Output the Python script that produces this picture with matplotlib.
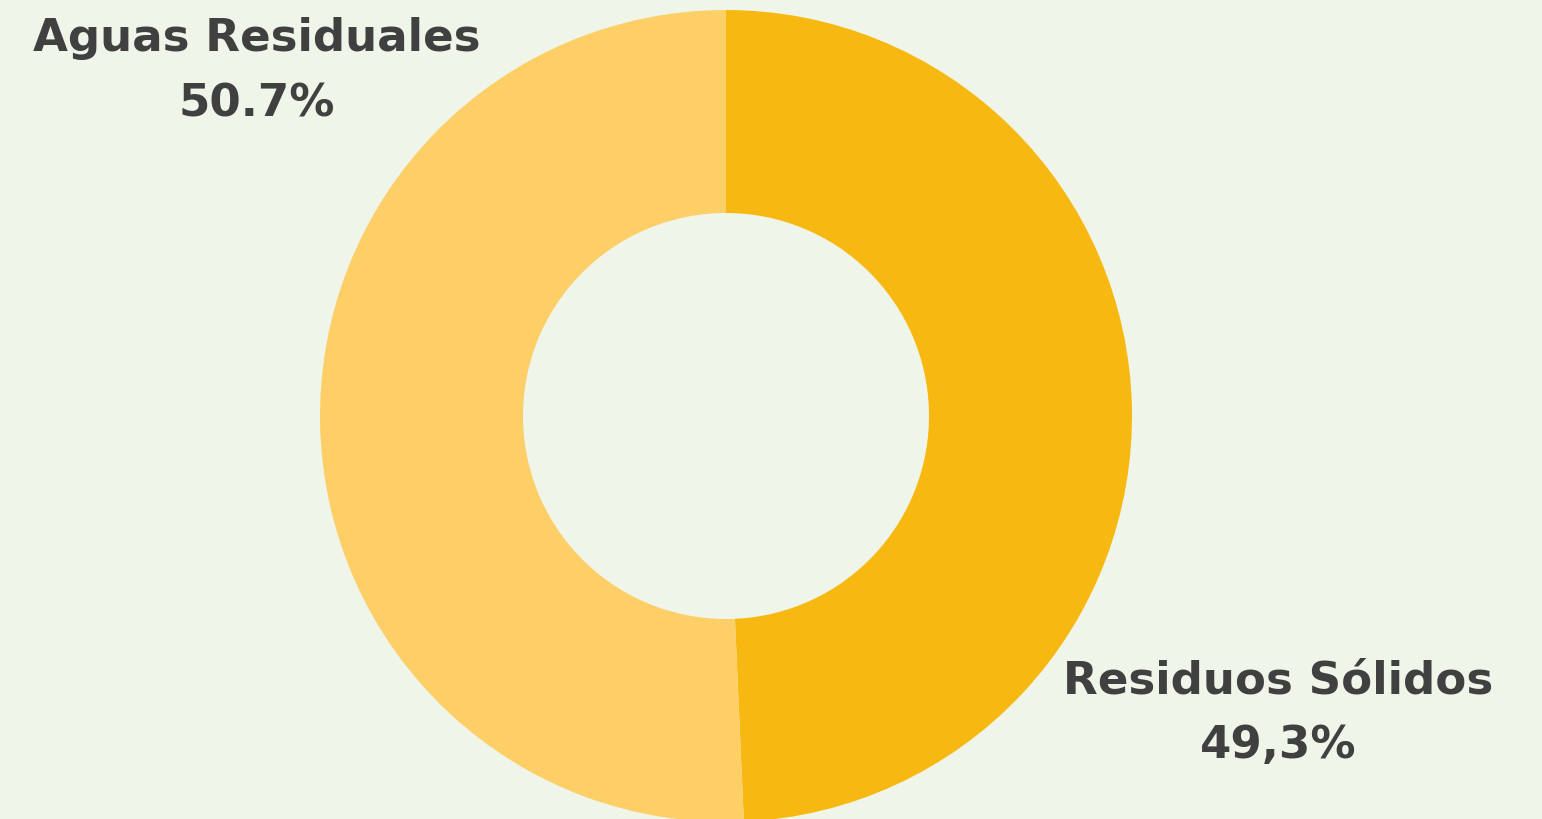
import matplotlib.pyplot as plt

# data
categories = ['Residuos Sólidos', 'Aguas Residuales']
values = [49.3, 50.7]
value_labels = ['49,3%', '50.7%']
colors = ['#F7B911', '#FDCF66']
bg = '#F0F5EA'
text_color = '#404040'

fig = plt.figure(figsize=(15.42, 8.2), dpi=100)
fig.patch.set_facecolor(bg)
ax = fig.add_axes([0, 0, 1, 1])
ax.set_facecolor(bg)

ax.pie(values, colors=colors, startangle=90, counterclock=False,
       center=(726, 403), radius=406, frame=True,
       wedgeprops=dict(width=203, linewidth=0))
ax.set_xlim(0, 1542)
ax.set_ylim(0, 820)
ax.axis('off')

# label positions (pixels, y from bottom)
label_pos = [(1278, 139), (257, 781)]
for cat, lab, (x, y) in zip(categories, value_labels, label_pos):
    ax.text(x, y, cat, ha='center', va='center', fontsize=32.5,
            fontweight='bold', color=text_color, family='DejaVu Sans')
    ax.text(x, y - 65, lab, ha='center', va='center', fontsize=32.5,
            fontweight='bold', color=text_color, family='DejaVu Sans')

fig.savefig('out.png', dpi=100, facecolor=bg)
